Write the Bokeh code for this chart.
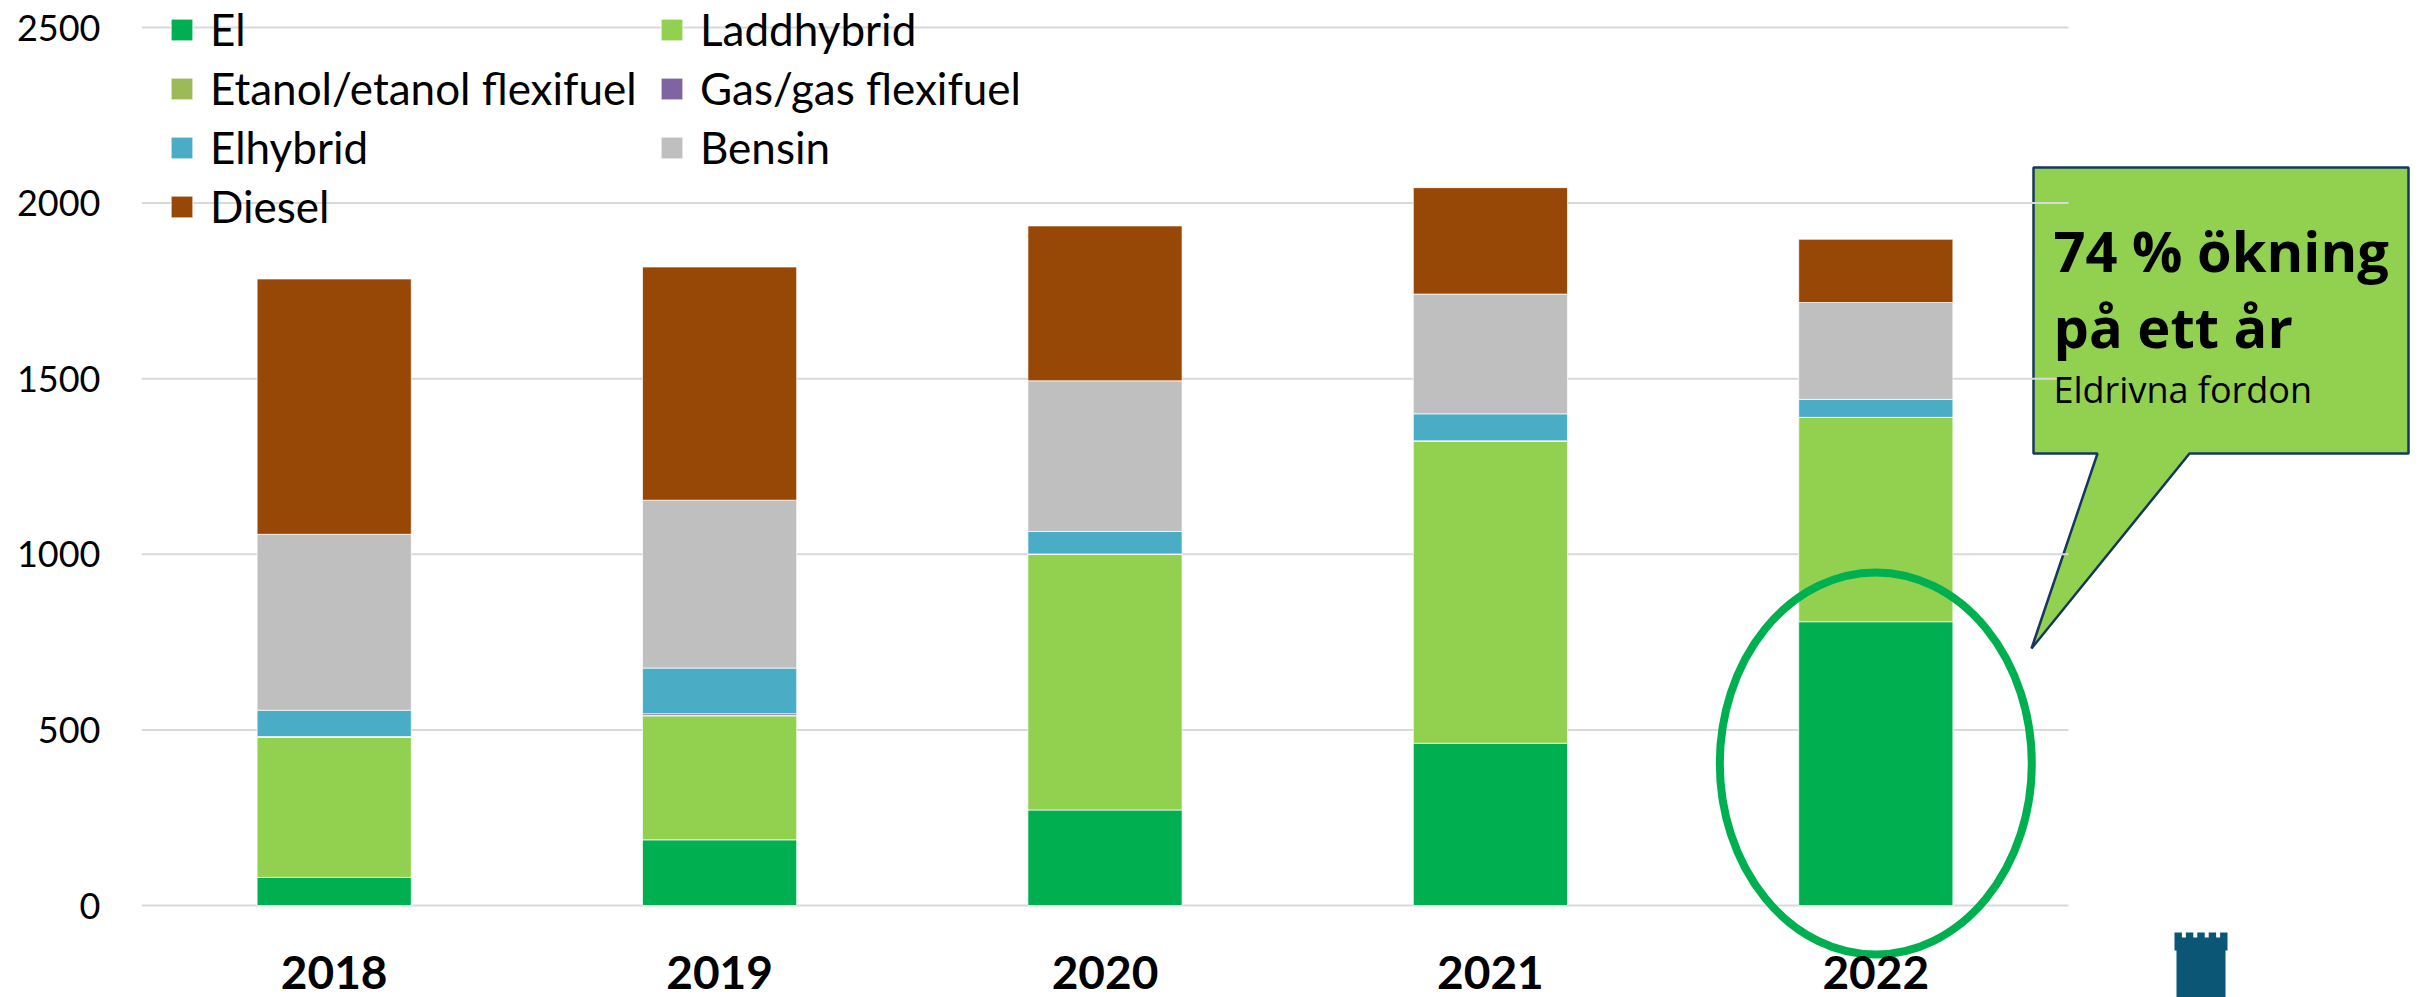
from bokeh.plotting import figure
from bokeh.models import (Range1d, FixedTicker, Legend, LegendItem, Label,
                          ColumnDataSource)
from bokeh.embed import file_html
from bokeh.resources import INLINE

# ---------------- data ----------------
years = ["2018", "2019", "2020", "2021", "2022"]
series = ["El", "Laddhybrid", "Etanol/etanol flexifuel", "Gas/gas flexifuel",
          "Elhybrid", "Bensin", "Diesel"]
el = [80, 187, 272, 462, 808]
laddhybrid = [399, 353, 728, 861, 582]
etanol = [1, 1, 0, 0, 0]
gas = [1, 5, 1, 0, 0]
elhybrid = [75, 130, 64, 77, 51]
bensin = [501, 478, 429, 341, 276]
diesel = [727, 664, 441, 303, 180]
colors = ["#00B050", "#92D050", "#9BBB59", "#8064A2", "#4BACC6", "#BFBFBF", "#974706"]
y_ticks = [0, 500, 1000, 1500, 2000, 2500]
callout_lines = ["74 % ökning", "på ett år"]
callout_sub = "Eldrivna fordon"
highlight_year = "2022"

# ---------------- layout (page pixels) ----------------
W, H = 2418, 997
FRAME_LEFT_PX = 141.0
CAT_W = 385.4
Y0_PX, YTOP_PX = 905.0, 27.0
PX_PER_UNIT = (Y0_PX - YTOP_PX) / y_ticks[-1]


def px_x(px):
    # category axis: category i (1-based) is centred at x = i
    return 0.5 + (px - FRAME_LEFT_PX) / CAT_W


def px_y(py):
    return (Y0_PX - py) / PX_PER_UNIT


FONT = "Lato"
CALLOUT_FONT = "Open Sans"

x_pos = [i + 1 for i in range(len(years))]
keys = ["El", "Laddhybrid", "Etanol", "Gas", "Elhybrid", "Bensin", "Diesel"]
source = ColumnDataSource(dict(x=x_pos, year=years, El=el, Laddhybrid=laddhybrid,
                               Etanol=etanol, Gas=gas, Elhybrid=elhybrid,
                               Bensin=bensin, Diesel=diesel))

p = figure(x_range=Range1d(px_x(FRAME_LEFT_PX), px_x(W)),
           y_range=Range1d(px_y(H), px_y(0)),
           width=W, height=H, output_backend="svg", toolbar_location=None,
           min_border_left=int(FRAME_LEFT_PX), min_border_right=0,
           min_border_top=0, min_border_bottom=0)
p.outline_line_color = None
p.background_fill_color = "white"
p.border_fill_color = "white"
p.xgrid.visible = False
p.ygrid.visible = False

# callout box (drawn first so the gridlines run over its left edge, as in the original)
cx = [2033, 2408, 2408, 2189, 2031, 2097, 2033]
cy = [167, 167, 453, 453, 648, 453, 453]
p.patch([px_x(v) for v in cx], [px_y(v) for v in cy], fill_color="#92D050",
        line_color="#17375E", line_width=2.5)

# horizontal gridlines spanning the category area only
p.segment(x0=[x_pos[0] - 0.5] * len(y_ticks), x1=[x_pos[-1] + 0.5] * len(y_ticks),
          y0=y_ticks, y1=y_ticks, line_color="#D9D9D9", line_width=2)

renderers = p.vbar_stack(keys, x="x", width=0.4, source=source, color=colors,
                         line_color="white", line_width=1, line_alpha=0.7)

# y axis
p.yaxis.ticker = FixedTicker(ticks=y_ticks)
p.yaxis.axis_line_color = None
p.yaxis.major_tick_in = 0
p.yaxis.major_tick_out = 0
p.yaxis.minor_tick_line_color = None
p.yaxis.major_label_standoff = 41
p.yaxis.major_label_text_font = FONT
p.yaxis.major_label_text_font_size = "36px"
p.yaxis.major_label_text_color = "black"

# x axis (categories)
p.xaxis.ticker = FixedTicker(ticks=x_pos)
p.xaxis.major_label_overrides = {xp: yr for xp, yr in zip(x_pos, years)}
p.xaxis.fixed_location = 0
p.xaxis.axis_line_color = None
p.xaxis.major_tick_in = 0
p.xaxis.major_tick_out = 0
p.xaxis.minor_tick_line_color = None
p.xaxis.major_label_standoff = 50
p.xaxis.major_label_text_font = FONT
p.xaxis.major_label_text_font_style = "bold"
p.xaxis.major_label_text_font_size = "46px"
p.xaxis.major_label_text_color = "black"

# legend
items = [LegendItem(label=s, renderers=[r]) for s, r in zip(series, renderers)]
legend = Legend(items=items, ncols=2, orientation="horizontal",
                location=(27, H - 1 - 231), margin=0, padding=0, spacing=7,
                glyph_width=27, glyph_height=27, label_standoff=15, label_width=441,
                label_text_font=FONT, label_text_font_size="44px",
                label_text_color="black",
                background_fill_alpha=0, border_line_color=None)
p.add_layout(legend)

# highlight ellipse around 2022
hx = x_pos[years.index(highlight_year)]
p.ellipse(x=[hx], y=[px_y(763)], width=312 / CAT_W, height=382 / PX_PER_UNIT,
          fill_color=None, line_color="#00B050", line_width=8)

# callout texts (baseline page-pixel positions, corrected for the renderer's baseline offset)
TITLE_SIZE, SUB_SIZE = 56, 36
for txt, base in zip(callout_lines, [268, 344]):
    p.add_layout(Label(x=px_x(2053), y=px_y(base - 0.33 * TITLE_SIZE), text=txt,
                       text_font=CALLOUT_FONT, text_font_style="bold",
                       text_font_size=f"{TITLE_SIZE}px",
                       text_baseline="alphabetic", text_color="black"))
p.add_layout(Label(x=px_x(2053), y=px_y(401 - 0.33 * SUB_SIZE), text=callout_sub,
                   text_font=CALLOUT_FONT, text_font_size=f"{SUB_SIZE}px",
                   text_baseline="alphabetic", text_color="black"))

# tower logo
L, R, T = 2174, 2227, 932
crown_b, notch_d, notch_w = 950, 5, 4
tx, ty = [L, L], [crown_b, T]
merlon = (R - L - 4 * notch_w) / 5
xx = L
for i in range(4):
    xx += merlon
    tx += [xx, xx, xx + notch_w, xx + notch_w]
    ty += [T, T + notch_d, T + notch_d, T]
    xx += notch_w
tx += [R, R, R - 2, R - 2, L + 2, L + 2]
ty += [T, crown_b, crown_b, 1005, 1005, crown_b]
p.patch([px_x(v) for v in tx], [px_y(v) for v in ty], fill_color="#0B5575",
        line_color=None)

open("out.html", "w").write(file_html(p, INLINE))
